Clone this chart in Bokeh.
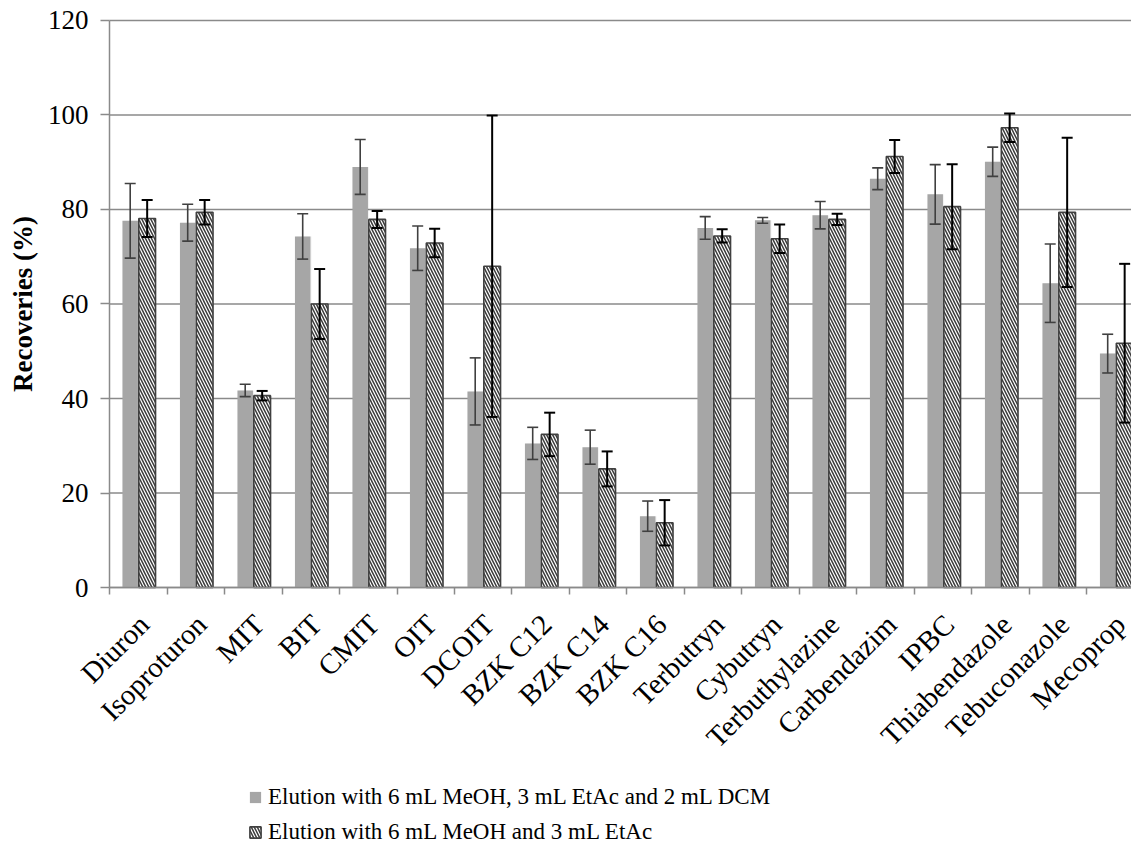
import numpy as np
from bokeh.plotting import figure
from bokeh.models import (ColumnDataSource, Range1d, FixedTicker, Whisker, TeeHead,
                          Legend, LegendItem)
from bokeh.transform import dodge
from bokeh.embed import file_html
from bokeh.resources import INLINE

compounds = ["Diuron", "Isoproturon", "MIT", "BIT", "CMIT", "OIT", "DCOIT",
             "BZK C12", "BZK C14", "BZK C16", "Terbutryn", "Cybutryn",
             "Terbuthylazine", "Carbendazim", "IPBC", "Thiabendazole",
             "Tebuconazole", "Mecoprop"]

# Elution with 6 mL MeOH, 3 mL EtAc and 2 mL DCM
rec_a = [77.6, 77.2, 41.7, 74.3, 89.0, 71.8, 41.5, 30.5, 29.7, 15.1,
         76.1, 77.7, 78.8, 86.5, 83.2, 90.1, 64.4, 49.5]
err_a = [7.9, 3.9, 1.3, 4.8, 5.8, 4.7, 7.1, 3.4, 3.6, 3.2,
         2.4, 0.6, 2.9, 2.3, 6.3, 3.1, 8.3, 4.1]

# Elution with 6 mL MeOH and 3 mL EtAc
rec_b = [78.1, 79.4, 40.6, 60.0, 77.9, 72.9, 68.0, 32.4, 25.1, 13.7,
         74.4, 73.8, 77.9, 91.2, 80.6, 97.3, 79.4, 51.7]
err_b = [3.9, 2.6, 1.0, 7.4, 1.8, 3.0, 31.9, 4.6, 3.7, 4.8,
         1.4, 3.0, 1.2, 3.5, 9.0, 3.0, 15.8, 16.8]

y_ticks = [0, 20, 40, 60, 80, 100, 120]

label_a = "Elution with 6 mL MeOH, 3 mL EtAc and 2 mL DCM"
label_b = "Elution with 6 mL MeOH and 3 mL EtAc"

n = len(compounds)
centers = (np.arange(n) + 0.5).tolist()
label_pos = [c + 0.1 for c in centers]   # rotated labels end slightly right of centre
ra, ea, rb, eb = map(np.array, (rec_a, err_a, rec_b, err_b))
src = ColumnDataSource(dict(
    x=centers, a=rec_a, b=rec_b,
    a_lo=(ra - ea).tolist(), a_hi=(ra + ea).tolist(),
    b_lo=(rb - eb).tolist(), b_hi=(rb + eb).tolist(),
))

FONT = "Liberation Serif"
GRID = "#8a8a8a"

# The frame fills the whole canvas; axes are drawn at x = 0 and y = 0 so that
# the tick labels and the legend sit inside it (and are not clipped).
X_START, X_END = -1.8957, 17.774
Y_START, Y_END = -54.6, 124.23

p = figure(width=1131, height=845, output_backend="svg", toolbar_location=None,
           x_range=Range1d(X_START, X_END), y_range=Range1d(Y_START, Y_END),
           min_border_left=0, min_border_right=0, min_border_top=0,
           min_border_bottom=0)
p.outline_line_color = None
p.background_fill_color = "white"
p.xgrid.grid_line_color = None
p.ygrid.grid_line_color = None

# horizontal grid lines, only across the plotting area
grid_src = ColumnDataSource(dict(y=y_ticks, x0=[0] * len(y_ticks),
                                 x1=[X_END] * len(y_ticks)))
p.segment(x0="x0", x1="x1", y0="y", y1="y", source=grid_src,
          line_color=GRID, line_width=1.5)

# soft shadows behind the bars
p.vbar(x=dodge("x", -0.12), top="a", width=0.27, source=src,
       fill_color="#000000", fill_alpha=0.05, line_color=None)
p.vbar(x=dodge("x", 0.175), top="b", width=0.29, source=src,
       fill_color="#000000", fill_alpha=0.05, line_color=None)

# bars
ga = p.vbar(x=dodge("x", -0.14), top="a", width=0.27, source=src,
            fill_color="#a6a6a6", line_color=None)
gb = p.vbar(x=dodge("x", 0.155), top="b", width=0.29, source=src,
            fill_color="white", line_color="#404040", line_width=1.6,
            hatch_pattern="\\", hatch_color="#3a3a3a", hatch_scale=6,
            hatch_weight=1.5)

# error bars
wa = Whisker(base=dodge("x", -0.14), upper="a_hi", lower="a_lo", source=src,
             level="annotation", line_color="#404040", line_width=1.6,
             upper_head=TeeHead(size=11, line_color="#404040", line_width=1.6),
             lower_head=TeeHead(size=11, line_color="#404040", line_width=1.6))
wb = Whisker(base=dodge("x", 0.155), upper="b_hi", lower="b_lo", source=src,
             level="annotation", line_color="black", line_width=2,
             upper_head=TeeHead(size=11, line_color="black", line_width=2),
             lower_head=TeeHead(size=11, line_color="black", line_width=2))
p.add_layout(wa)
p.add_layout(wb)

# y axis, drawn at x = 0
p.yaxis.fixed_location = 0
p.yaxis.ticker = FixedTicker(ticks=y_ticks)
p.yaxis.bounds = (0, 120)
p.yaxis.axis_label = "Recoveries (%)"
p.yaxis.axis_label_text_font = FONT
p.yaxis.axis_label_text_font_style = "bold"
p.yaxis.axis_label_text_font_size = "27px"
p.yaxis.axis_label_text_color = "black"
p.yaxis.axis_label_standoff = 7
p.yaxis.major_label_text_font = FONT
p.yaxis.major_label_text_font_size = "27px"
p.yaxis.major_label_text_color = "black"
p.yaxis.major_label_standoff = 12
p.yaxis.axis_line_color = GRID
p.yaxis.axis_line_width = 1.5
p.yaxis.major_tick_line_color = GRID
p.yaxis.major_tick_line_width = 1.5
p.yaxis.major_tick_out = 9
p.yaxis.major_tick_in = 0
p.yaxis.minor_tick_line_color = None

# x axis, drawn at y = 0
p.xaxis.fixed_location = 0
p.xaxis.bounds = (0, X_END)
p.xaxis.ticker = FixedTicker(ticks=label_pos, minor_ticks=list(range(n + 1)))
p.xaxis.major_label_overrides = {c: name for c, name in zip(label_pos, compounds)}
p.xaxis.major_label_orientation = np.pi / 4
p.xaxis.major_label_text_font = FONT
p.xaxis.major_label_text_font_size = "29px"
p.xaxis.major_label_text_color = "black"
p.xaxis.major_label_standoff = 25
p.xaxis.axis_line_color = GRID
p.xaxis.axis_line_width = 1.5
p.xaxis.major_tick_line_color = None
p.xaxis.minor_tick_line_color = GRID
p.xaxis.minor_tick_line_width = 1.5
p.xaxis.minor_tick_out = 7
p.xaxis.minor_tick_in = 0

# legend below the category labels
legend = Legend(items=[LegendItem(label=label_a, renderers=[ga]),
                       LegendItem(label=label_b, renderers=[gb])],
                location=(248, -2), orientation="vertical",
                label_text_font=FONT, label_text_font_size="23px",
                label_text_color="black", glyph_width=14, glyph_height=14,
                label_standoff=6, label_height=30, spacing=5, padding=0,
                margin=0, border_line_color=None, background_fill_alpha=0)
p.add_layout(legend, "center")

open("out.html", "w").write(file_html(p, INLINE))
